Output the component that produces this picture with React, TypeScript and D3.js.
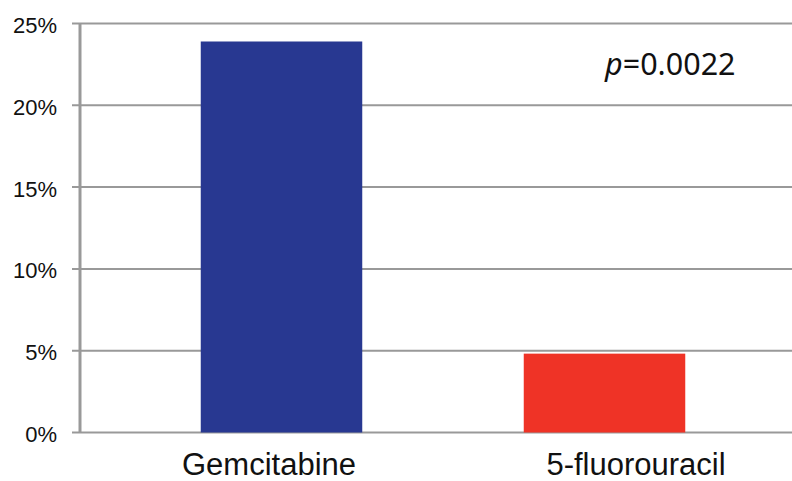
import React from "react";
import * as d3 from "d3";

const categories = ["Gemcitabine", "5-fluorouracil"];
const values = [23.9, 4.82];
const colors = ["#283891", "#ef3326"];
const yTicks = [0, 5, 10, 15, 20, 25];
const annotation = "0.0022";

export default function App() {
  const W = 792, H = 481;
  const y = d3.scaleLinear().domain([0, 25]).range([432.5, 23.5]);
  const x = d3.scaleBand<string>().domain(categories).range([120, 766]).paddingInner(0.5).paddingOuter(0.25);
  const xl = d3.scalePoint<string>().domain(categories).range([269, 636]);
  return (
    <svg width={W} height={H} style={{ position: "absolute", left: 0, top: 0 }}>
      <rect width={W} height={H} fill="#fff" />
      {yTicks.map((t) => (
        <g key={t}>
          <line x1={72} x2={W} y1={y(t)} y2={y(t)} stroke="#999" strokeWidth={2} />
          <text x={57} y={y(t) + 9.5} textAnchor="end" fontFamily="Liberation Sans, Arial, sans-serif" fontSize={22} fill="#111">
            {t}%
          </text>
        </g>
      ))}
      <line x1={80} x2={80} y1={y(25)} y2={y(0)} stroke="#999" strokeWidth={3} />
      {categories.map((c, i) => (
        <rect key={c} x={x(c)} width={x.bandwidth()} y={y(values[i])} height={y(0) - y(values[i])} fill={colors[i]} />
      ))}
      {categories.map((c) => (
        <text key={c} x={xl(c)} y={475} textAnchor="middle" fontFamily="Liberation Sans, Arial, sans-serif" fontSize={31} fill="#111">
          {c}
        </text>
      ))}
      <text x={605} y={75} fontFamily="Noto Sans, Open Sans, sans-serif" fontSize={30.5} fill="#111">
        <tspan fontStyle="italic">p</tspan>={annotation}
      </text>
    </svg>
  );
}
